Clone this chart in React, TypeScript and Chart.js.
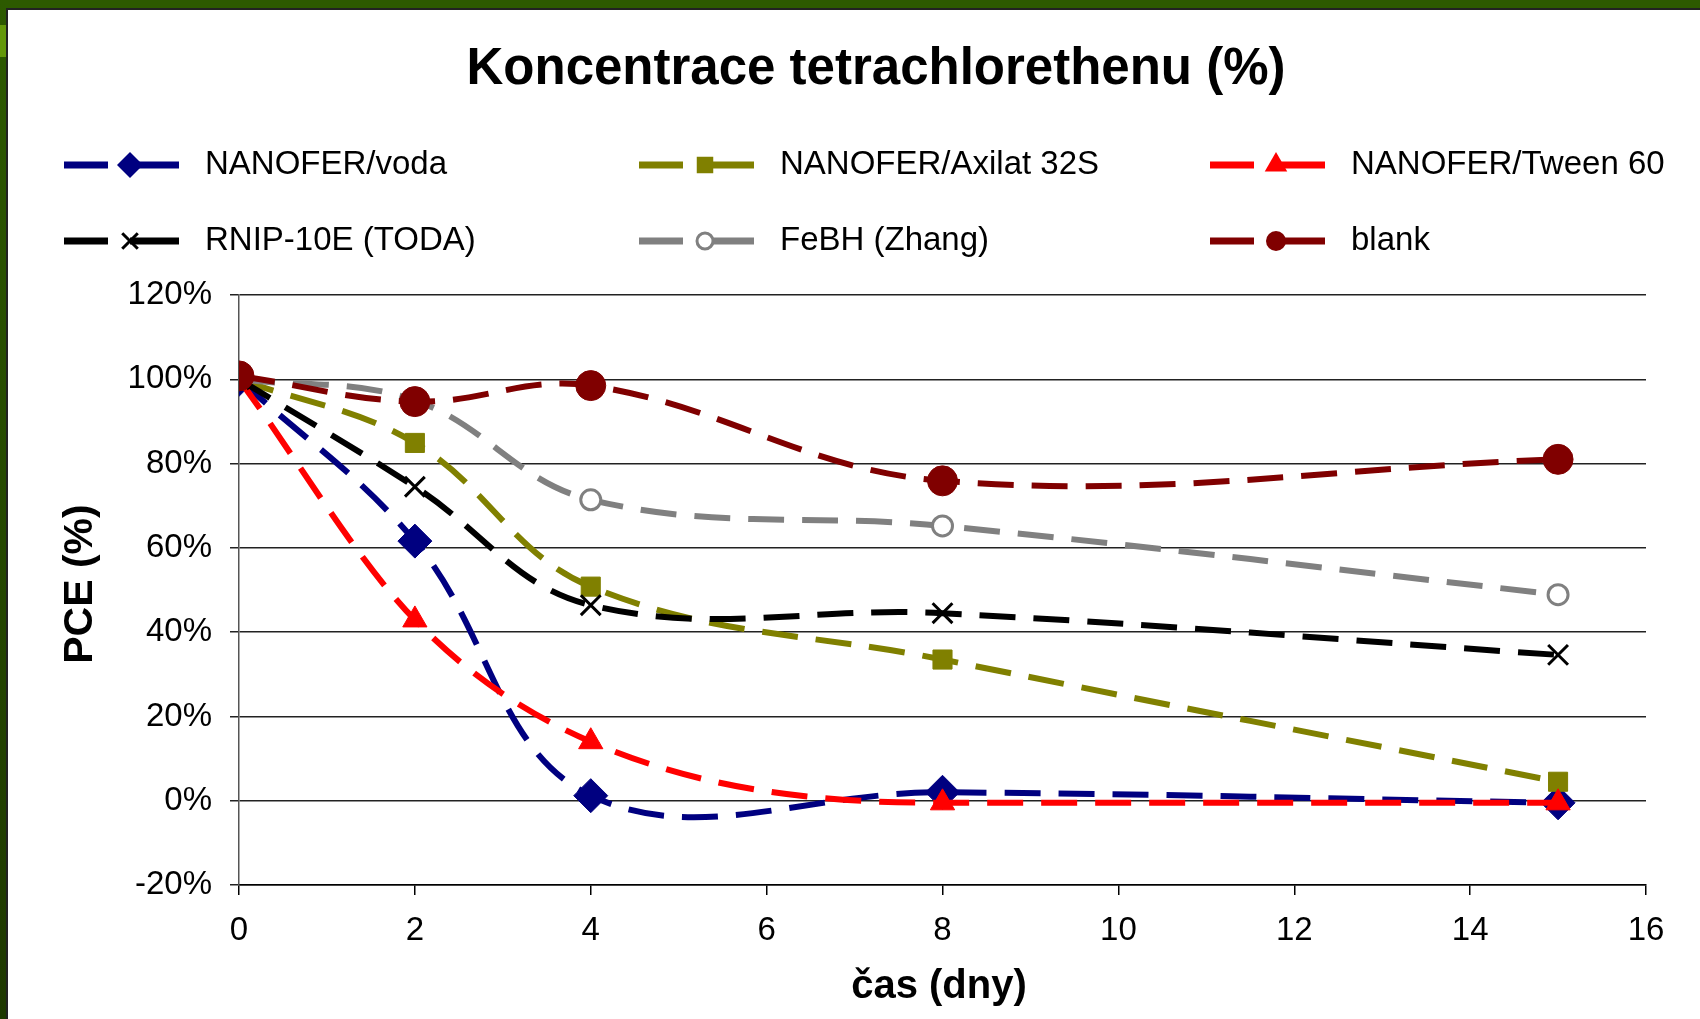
import React, { useEffect, useRef } from 'react';
import { Chart, registerables } from 'chart.js';

Chart.register(...registerables);

const FONT = "'Liberation Sans', Arial, Helvetica, sans-serif";

const titleText = 'Koncentrace tetrachlorethenu (%)';
const xTitleText = 'čas (dny)';
const yTitleText = 'PCE (%)';

const days = [0, 2, 4, 8, 15];
const yTicks = [-20, 0, 20, 40, 60, 80, 100, 120];

const seriesNames = [
  'NANOFER/voda',
  'NANOFER/Axilat 32S',
  'NANOFER/Tween 60',
  'RNIP-10E (TODA)',
  'FeBH (Zhang)',
  'blank',
];

const vodaValues = [100, 61.6, 1.2, 2, -0.5];
const axilatValues = [100, 84.9, 50.8, 33.5, 4.5];
const tweenValues = [100, 42.9, 14, -0.5, -0.5];
const rnipValues = [100, 74.5, 46.4, 44.5, 34.6];
const febhValues = [100, 95, 71.4, 65.2, 48.9];
const blankValues = [100.8, 94.7, 98.5, 75.9, 81];

const seriesValues = [vodaValues, axilatValues, tweenValues, rnipValues, febhValues, blankValues];
const seriesColors = ['#000080', '#808000', '#FF0000', '#000000', '#808080', '#800000'];
const seriesPointStyles = ['rectRot', 'rect', 'triangle', 'crossRot', 'circle', 'circle'];
const seriesPointRadius = [17, 13.5, 14, 14, 10, 15];
const seriesPointFill = ['#000080', '#808000', '#FF0000', '#000000', '#FFFFFF', '#800000'];
const seriesPointBorder = [1, 1, 1, 3, 3, 1];
const seriesInterp = ['default', 'default', 'monotone', 'default', 'default', 'default'];

// legend layout
const legendCols = [64, 639, 1210];
const legendRows = [165, 241];
const legendMarkerR = [13, 11, 13, 11, 8, 10];

function drawMarker(ctx: CanvasRenderingContext2D, style: string, x: number, y: number, r: number, fill: string, stroke: string, bw: number) {
  ctx.save();
  ctx.fillStyle = fill;
  ctx.strokeStyle = stroke;
  ctx.lineWidth = bw;
  ctx.beginPath();
  if (style === 'rectRot') {
    ctx.moveTo(x, y - r);
    ctx.lineTo(x + r, y);
    ctx.lineTo(x, y + r);
    ctx.lineTo(x - r, y);
    ctx.closePath();
    ctx.fill();
  } else if (style === 'rect') {
    ctx.rect(x - r * 0.75, y - r * 0.75, r * 1.5, r * 1.5);
    ctx.fill();
  } else if (style === 'triangle') {
    ctx.moveTo(x, y - r);
    ctx.lineTo(x + r * 0.866, y + r * 0.5);
    ctx.lineTo(x - r * 0.866, y + r * 0.5);
    ctx.closePath();
    ctx.fill();
  } else if (style === 'crossRot') {
    const o = r * 0.707;
    ctx.moveTo(x - o, y - o);
    ctx.lineTo(x + o, y + o);
    ctx.moveTo(x + o, y - o);
    ctx.lineTo(x - o, y + o);
    ctx.stroke();
  } else {
    ctx.arc(x, y, r, 0, Math.PI * 2);
    ctx.fill();
    if (bw > 1) ctx.stroke();
  }
  ctx.restore();
}

const decorPlugin = {
  id: 'decor',
  afterDraw(chart: any) {
    const ctx: CanvasRenderingContext2D = chart.ctx;
    ctx.save();
    ctx.fillStyle = '#000';
    // main title
    ctx.font = `bold 51px ${FONT}`;
    ctx.textAlign = 'center';
    ctx.textBaseline = 'alphabetic';
    ctx.fillText(titleText, 876, 84);
    // x title
    ctx.font = `bold 40px ${FONT}`;
    ctx.textBaseline = 'middle';
    ctx.fillText(xTitleText, 939, 987);
    // y title
    ctx.save();
    ctx.translate(81, 584);
    ctx.rotate(-Math.PI / 2);
    ctx.font = `bold 41px ${FONT}`;
    ctx.fillText(yTitleText, 0, 0);
    ctx.restore();
    // legend
    ctx.font = `33px ${FONT}`;
    ctx.textAlign = 'left';
    ctx.textBaseline = 'middle';
    seriesNames.forEach((name, i) => {
      const lx = legendCols[i % 3];
      const ly = legendRows[Math.floor(i / 3)];
      ctx.save();
      ctx.strokeStyle = seriesColors[i];
      ctx.lineWidth = 7;
      ctx.beginPath();
      ctx.moveTo(lx, ly);
      ctx.lineTo(lx + 44, ly);
      ctx.moveTo(lx + 66, ly);
      ctx.lineTo(lx + 115, ly);
      ctx.stroke();
      ctx.restore();
      drawMarker(ctx, seriesPointStyles[i], lx + 66, ly, legendMarkerR[i], seriesPointFill[i], seriesColors[i], seriesPointBorder[i]);
      ctx.fillStyle = '#000';
      ctx.fillText(name, lx + 141, ly);
    });
    ctx.restore();
  },
};

export default function App() {
  const canvasRef = useRef<HTMLCanvasElement | null>(null);

  useEffect(() => {
    document.body.style.margin = '0';
    const canvas = canvasRef.current;
    if (!canvas) return;
    Chart.defaults.font.family = FONT;
    const datasets = seriesNames.map((name, i) => ({
      label: name,
      data: days.map((d, j) => ({ x: d, y: seriesValues[i][j] })),
      borderColor: seriesColors[i],
      backgroundColor: seriesPointFill[i],
      borderWidth: 6,
      borderDash: [36, 18],
      borderCapStyle: 'butt' as const,
      tension: 0.38,
      cubicInterpolationMode: seriesInterp[i] as any,
      fill: false,
      pointStyle: seriesPointStyles[i] as any,
      pointRadius: seriesPointRadius[i],
      pointBackgroundColor: seriesPointFill[i],
      pointBorderColor: seriesColors[i],
      pointBorderWidth: seriesPointBorder[i],
      order: seriesNames.length - i,
    }));
    const chart = new Chart(canvas, {
      type: 'line',
      data: { datasets },
      options: {
        animation: false,
        responsive: false,
        devicePixelRatio: 1,
        layout: { padding: { top: 295, right: 54, left: 0, bottom: 0 } },
        plugins: {
          legend: { display: false },
          title: { display: false },
          tooltip: { enabled: false },
        },
        scales: {
          x: {
            type: 'linear',
            min: 0,
            max: 16,
            ticks: { stepSize: 2, color: '#000', font: { size: 33 }, padding: 16, maxRotation: 0 },
            grid: { drawOnChartArea: false, drawTicks: true, tickLength: 10, color: '#000', lineWidth: 1.5 },
            border: { display: true, color: '#000', width: 1.5 },
            afterFit: (s: any) => { s.height = 134; },
          },
          y: {
            type: 'linear',
            min: -20,
            max: 120,
            afterBuildTicks: (s: any) => { s.ticks = yTicks.map((v) => ({ value: v })); },
            ticks: { color: '#000', font: { size: 33 }, padding: 18, callback: (v: any) => `${v}%` },
            grid: { color: '#222', lineWidth: 1.5, drawTicks: true, tickLength: 9 },
            border: { display: true, color: '#555', width: 1.5 },
            afterFit: (s: any) => { s.width = 239; },
          },
        },
      },
      plugins: [decorPlugin],
    });
    return () => chart.destroy();
  }, []);

  return (
    <div style={{ position: 'fixed', left: 0, top: 0, width: 1700, height: 1019, background: '#fff', overflow: 'hidden' }}>
      <canvas ref={canvasRef} width={1700} height={1019} style={{ position: 'absolute', left: 0, top: 0, width: 1700, height: 1019 }} />
      <div style={{ position: 'absolute', left: 0, top: 0, width: 1700, height: 8, background: '#2d5a00' }} />
      <div style={{ position: 'absolute', left: 0, top: 8, width: 1700, height: 2, background: '#222' }} />
      <div style={{ position: 'absolute', left: 0, top: 0, width: 6, height: 1019, background: 'linear-gradient(#2d5a00, #1e3800)' }} />
      <div style={{ position: 'absolute', left: 0, top: 25, width: 6, height: 32, background: '#64980a' }} />
      <div style={{ position: 'absolute', left: 6, top: 8, width: 2, height: 1011, background: '#222' }} />
    </div>
  );
}
